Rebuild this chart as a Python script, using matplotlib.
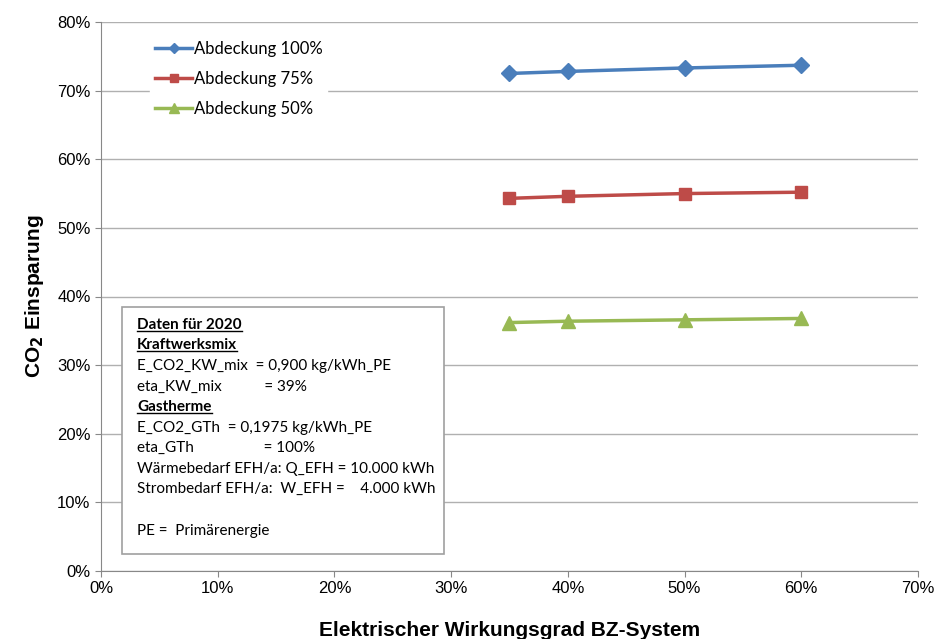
import matplotlib.pyplot as plt
from matplotlib.ticker import FuncFormatter

# data
wirkungsgrad = [35, 40, 50, 60]
abdeckung_100 = [72.5, 72.8, 73.3, 73.7]
abdeckung_75 = [54.3, 54.6, 55.0, 55.2]
abdeckung_50 = [36.2, 36.4, 36.6, 36.8]
series_labels = ['Abdeckung 100%', 'Abdeckung 75%', 'Abdeckung 50%']

box_lines = [
    ('Daten für 2020', True),
    ('Kraftwerksmix', True),
    ('E_CO2_KW_mix  = 0,900 kg/kWh_PE', False),
    ('eta_KW_mix           = 39%', False),
    ('Gastherme', True),
    ('E_CO2_GTh  = 0,1975 kg/kWh_PE', False),
    ('eta_GTh                  = 100%', False),
    ('Wärmebedarf EFH/a: Q_EFH = 10.000 kWh', False),
    ('Strombedarf EFH/a:  W_EFH =    4.000 kWh', False),
    ('', False),
    ('PE =  Primärenergie', False),
]

plt.rcParams['font.family'] = ['Liberation Sans', 'DejaVu Sans']

fig = plt.figure(figsize=(9.41, 6.39), dpi=100)
ax = fig.add_axes([101/941, 68/639, 817/941, 549/639])

ax.plot(wirkungsgrad, abdeckung_100, '-D', color='#4a7ebb', lw=2.5, ms=8, label=series_labels[0])
ax.plot(wirkungsgrad, abdeckung_75, '-s', color='#be4b48', lw=2.5, ms=9, label=series_labels[1])
ax.plot(wirkungsgrad, abdeckung_50, '-^', color='#98b954', lw=2.5, ms=10, label=series_labels[2])

ax.set_xlim(0, 70)
ax.set_ylim(0, 80)
ax.set_xticks(range(0, 71, 10))
ax.set_yticks(range(0, 81, 10))
pct = FuncFormatter(lambda v, p: '%d%%' % v)
ax.xaxis.set_major_formatter(pct)
ax.yaxis.set_major_formatter(pct)
ax.tick_params(labelsize=12, length=4, color='#888888')
ax.yaxis.grid(True, color='#b0b0b0', lw=1)
ax.set_axisbelow(True)
for s in ['top', 'right']:
    ax.spines[s].set_visible(False)
for s in ['left', 'bottom']:
    ax.spines[s].set_color('#888888')

ax.set_xlabel('Elektrischer Wirkungsgrad BZ-System', fontsize=15, fontweight='bold', labelpad=18)
ax.set_ylabel(r'CO$_\mathbf{2}$ Einsparung', fontsize=15, fontweight='bold', labelpad=8)

leg = ax.legend(loc='upper left', bbox_to_anchor=(0.05, 0.99), frameon=True,
                prop={'family': 'Lato', 'size': 12}, handlelength=2.2, handletextpad=0.1,
                labelspacing=0.85, borderpad=0.3, markerscale=0.7)
leg.get_frame().set_edgecolor('white')
leg.get_frame().set_facecolor('white')
leg.get_frame().set_alpha(1)

# info box
box = plt.Rectangle((1.8, 2.5), 27.6, 36.0, facecolor='white', edgecolor='#a0a0a0', lw=1.2, zorder=3)
ax.add_patch(box)

fig.canvas.draw()
renderer = fig.canvas.get_renderer()
x0 = 3.1
y_top = 35.9
step = 3.0
for i, (line, underline) in enumerate(box_lines):
    y = y_top - i * step
    t = ax.text(x0, y, line, fontsize=11, family='Lato', fontweight='bold' if underline else 'normal',
                va='center', ha='left', zorder=4)
    if underline:
        bb = t.get_window_extent(renderer).transformed(ax.transData.inverted())
        ax.plot([bb.x0, bb.x1], [bb.y0 + 0.15, bb.y0 + 0.15], color='black', lw=1, zorder=4)

fig.savefig('out.png', dpi=100)
